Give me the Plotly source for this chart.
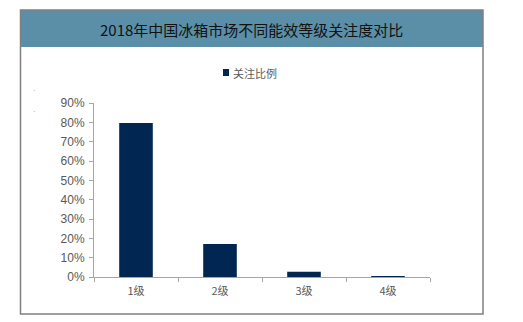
import plotly.graph_objects as go

categories = ["1级", "2级", "3级", "4级"]
values = [0.796, 0.171, 0.027, 0.005]
series_name = "关注比例"
title_text = "2018年中国冰箱市场不同能效等级关注度对比"
tick_vals = [0, 0.1, 0.2, 0.3, 0.4, 0.5, 0.6, 0.7, 0.8, 0.9]
tick_text = ["0%", "10%", "20%", "30%", "40%", "50%", "60%", "70%", "80%", "90%"]

OFF = 8  # page body margin
W, H = 523 - OFF, 322 - OFF
L, R, T, B = 94 - OFF, 430 - OFF, 103 - OFF, 277 - OFF

def px(x):
    return (x - OFF - L) / (R - L)

def py(y):
    return (B - (y - OFF)) / (B - T)

fig = go.Figure()
fig.add_trace(go.Bar(x=categories, y=values, name=series_name,
                     marker=dict(color="#012652", line=dict(width=0)),
                     showlegend=False))

fig.update_layout(
    width=W, height=H,
    margin=dict(l=L, r=W - R, t=T, b=H - B),
    paper_bgcolor="white", plot_bgcolor="white",
    bargap=0.6,
    font=dict(family="Liberation Sans, Arial", size=11, color="#595959"),
    showlegend=False,
    xaxis=dict(showline=True, linecolor="#a6a6a6", linewidth=1,
               ticks="outside", tickson="boundaries", ticklen=4, tickcolor="#a6a6a6",
               ticklabelstandoff=4,
               tickfont=dict(family="Noto Sans CJK SC", size=11, color="#595959"),
               showgrid=False, zeroline=False),
    yaxis=dict(range=[0, 0.9], tickvals=tick_vals, ticktext=tick_text,
               showline=True, linecolor="#a6a6a6", linewidth=1,
               ticks="outside", ticklen=4, tickcolor="#a6a6a6",
               ticklabelstandoff=2,
               tickfont=dict(family="Liberation Sans, Arial", size=12, color="#595959"),
               showgrid=False, zeroline=False),
)

# title band and outer frame
fig.add_shape(type="rect", xref="paper", yref="paper",
              x0=px(20.5), x1=px(483), y0=py(47), y1=py(10),
              fillcolor="#5b8fa8", line=dict(width=0), layer="below")
fig.add_shape(type="rect", xref="paper", yref="paper",
              x0=px(20.5), x1=px(483), y0=py(314), y1=py(10),
              fillcolor="rgba(0,0,0,0)", line=dict(color="#808080", width=1.5))

fig.add_annotation(text=title_text, xref="paper", yref="paper",
                   x=px(251.5), y=py(29), showarrow=False,
                   xanchor="center", yanchor="middle",
                   font=dict(family="Noto Sans CJK SC", size=15, color="#111111"))

# legend (manual)
fig.add_shape(type="rect", xref="paper", yref="paper",
              x0=px(223), x1=px(229), y0=py(76), y1=py(69),
              fillcolor="#012652", line=dict(width=0))
fig.add_annotation(text=series_name, xref="paper", yref="paper",
                   x=px(231), y=py(72.5), showarrow=False,
                   xanchor="left", yanchor="middle",
                   font=dict(family="Noto Sans CJK SC", size=11, color="#595959"))

for ydot in (84, 105):
    fig.add_annotation(text="·", xref="paper", yref="paper", x=px(30.5), y=py(ydot),
                       showarrow=False, font=dict(size=8, color="#999999"))

fig.write_html("out.html")
